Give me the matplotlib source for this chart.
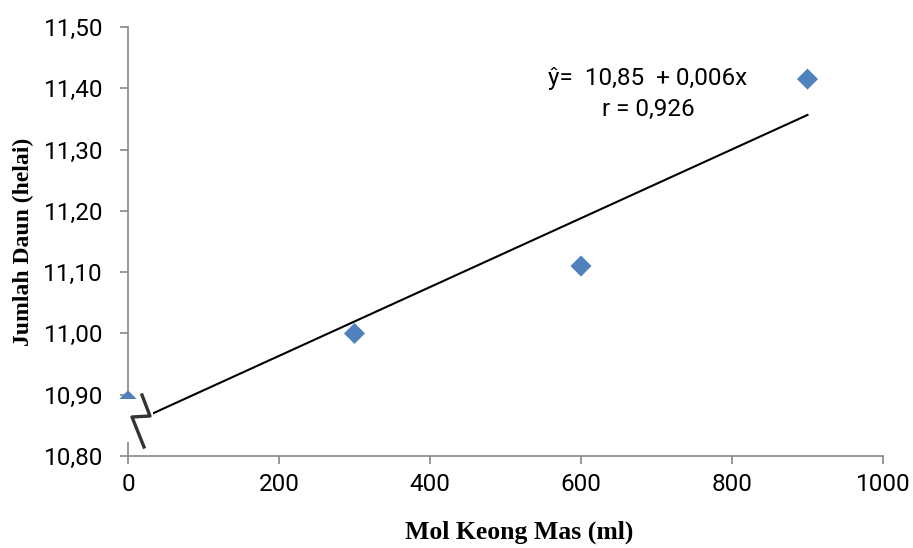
import numpy as np
import matplotlib
matplotlib.use("Agg")
import matplotlib.pyplot as plt
from matplotlib.patches import Rectangle
from matplotlib.lines import Line2D

# data
dosis = [0, 300, 600, 900]
jumlah_daun = [10.89, 11.00, 11.11, 11.415]
y_ticks = [10.80, 10.90, 11.00, 11.10, 11.20, 11.30, 11.40, 11.50]
x_ticks = [0, 200, 400, 600, 800, 1000]

W, H = 913, 548
fig = plt.figure(figsize=(W / 100, H / 100), dpi=100)
ax = fig.add_axes([128 / W, 1 - 456 / H, (883 - 128) / W, (456 - 27) / H])

ax.scatter(dosis, jumlah_daun, marker='D', s=115, color='#4F81BD', zorder=3,
           edgecolors='none', clip_on=False)

# garis regresi
b, a = np.polyfit(dosis, jumlah_daun, 1)
xs = np.array([dosis[0], dosis[-1]])
ax.plot(xs, a + b * xs, color='black', lw=1.5, zorder=2)

ax.set_xlim(0, 1000)
ax.set_ylim(10.80, 11.50)
ax.set_xticks(x_ticks)
ax.set_yticks(y_ticks)
ax.set_yticklabels([f"{v:.2f}".replace('.', ',') for v in y_ticks])
ax.set_xticklabels([str(v) for v in x_ticks])

for lab in ax.get_xticklabels() + ax.get_yticklabels():
    lab.set_fontfamily('Roboto')
    lab.set_fontsize(17.5)

for s in ['top', 'right']:
    ax.spines[s].set_visible(False)
for s in ['left', 'bottom']:
    ax.spines[s].set_color('#868686')
    ax.spines[s].set_linewidth(1.2)
ax.tick_params(colors='#868686', length=6, width=1.2, direction='out',
               labelcolor='black')
ax.tick_params(axis='y', pad=12)
ax.tick_params(axis='x', pad=6)

ax.set_xlabel('Mol Keong Mas (ml)', family='Liberation Serif', weight='bold',
              size=18.5)
ax.set_ylabel('Jumlah Daun (helai)', family='Liberation Serif', weight='bold',
              size=17)
ax.xaxis.set_label_coords(0.518, -0.15)
ax.yaxis.set_label_coords(-0.124, 0.5)

ax.text(0.556, 0.881, 'ŷ=  10,85  + 0,006x', transform=ax.transAxes,
        family='Roboto', size=17.5, color='black', ha='left', va='center')
ax.text(0.628, 0.807, 'r = 0,926', transform=ax.transAxes,
        family='Roboto', size=17.5, color='black', ha='left', va='center')

# tanda patah sumbu
fig.add_artist(Rectangle((101 / W, 1 - 442 / H), 52 / W, 43 / H,
                         transform=fig.transFigure, facecolor='white',
                         edgecolor='none', zorder=5))
zx = [142, 150, 132, 144]
zy = [395, 416, 417, 447]
fig.add_artist(Line2D([x / W for x in zx], [1 - y / H for y in zy],
                      transform=fig.transFigure, color='#333333', lw=2.4,
                      zorder=6))

fig.savefig('out.png', dpi=100)
